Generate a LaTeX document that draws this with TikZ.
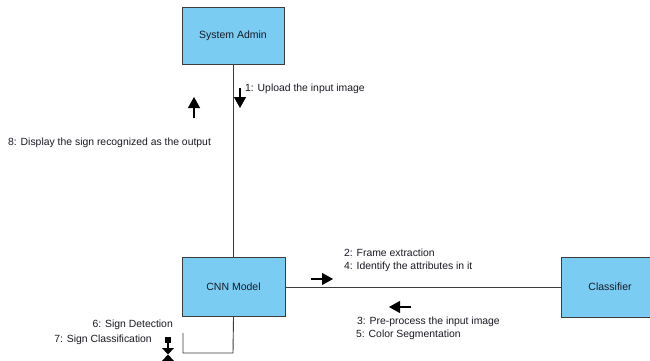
\documentclass[tikz,border=0pt]{standalone}
\usepackage{fontspec}
\setmainfont{Liberation Sans}
\usetikzlibrary{arrows.meta}
\definecolor{boxfill}{RGB}{122,204,242}
\definecolor{boxline}{RGB}{60,60,60}
\definecolor{txt}{RGB}{25,25,35}
\begin{document}
\begin{tikzpicture}[x=1pt,y=-1pt,
  objbox/.style={draw=boxline,line width=0.9pt,fill=boxfill,inner sep=0pt,font=\fontsize{10.5}{12}\selectfont,text=txt},
  link/.style={draw=boxline,line width=0.9pt},
  msg/.style={line width=1.1pt,-{Triangle[length=11pt,width=12pt]}},
  lbl/.style={font=\fontsize{10.4}{12}\selectfont,text=txt,inner sep=0pt}]
\clip (0,0) rectangle (650,361);
\fill[white] (0,0) rectangle (650,361);
\node[objbox,minimum width=102pt,minimum height=57pt] (admin) at (233,35.5) {System Admin};
\node[objbox,minimum width=103pt,minimum height=59pt] (cnn) at (233.5,287) {CNN Model};
\node[objbox,minimum width=98pt,minimum height=60pt] (cls) at (610,287) {Classifier};
% links
\draw[link] (admin.south) -- (admin.south |- cnn.north);
\draw[link] (cnn.east) -- (cls.west);
\coordinate (l1) at (233,353);
\coordinate (l2) at (183,353);
\coordinate (l3) at (183,333);
\draw[link] (cnn.south) -- (l1) -- (l2) -- (l3);
% message arrows
\coordinate (a1s) at (240,88); \coordinate (a1e) at (240,108);
\draw[msg] (a1s) -- (a1e);
\coordinate (a8s) at (194,118); \coordinate (a8e) at (194,97);
\draw[msg] (a8s) -- (a8e);
\coordinate (a2s) at (311,279); \coordinate (a2e) at (333,279);
\draw[msg] (a2s) -- (a2e);
\coordinate (a3s) at (411,307); \coordinate (a3e) at (389,307);
\draw[msg] (a3s) -- (a3e);
% self message glyph
\fill (165,337) rectangle (171,343);
\draw[line width=1.6pt] (168,342) -- (168,349);
\fill (162,348) -- (174,348) -- (168,354.5) -- cycle;
\fill (162,361) -- (174,361) -- (168,354.5) -- cycle;
% labels
\node[lbl,anchor=west] (t1) at (245,89) {1: Upload the input image};
\node[lbl,anchor=west] (t8) at (8,143) {8: Display the sign recognized as the output};
\node[lbl,anchor=west] (t2) at (344,253) {2: Frame extraction};
\node[lbl,anchor=west] (t4) at (344,267) {4: Identify the attributes in it};
\node[lbl,anchor=west] (t3) at (357,322) {3: Pre-process the input image};
\node[lbl,anchor=west] (t5) at (356,335) {5: Color Segmentation};
\node[lbl,anchor=east] (t6) at (173,325) {6: Sign Detection};
\node[lbl,anchor=east] (t7) at (152,340) {7: Sign Classification};
\end{tikzpicture}
\end{document}
